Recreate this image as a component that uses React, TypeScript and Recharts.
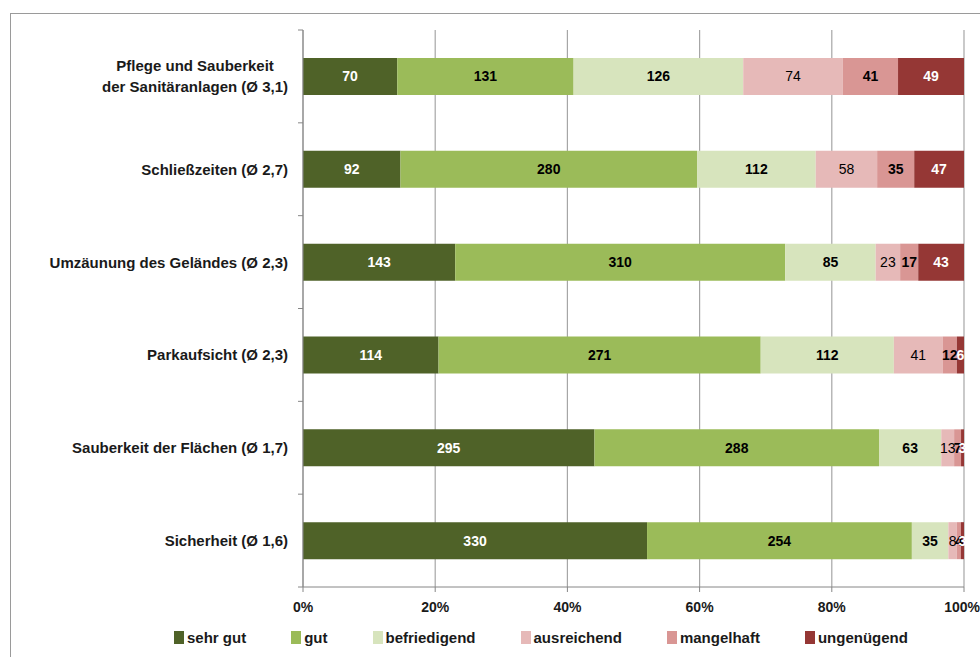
import React from "react";
import { Bar, BarChart, CartesianGrid, LabelList, Legend, XAxis, YAxis } from "recharts";

const categories = [
  "Pflege und Sauberkeit\nder Sanitäranlagen (Ø 3,1)",
  "Schließzeiten (Ø 2,7)",
  "Umzäunung des Geländes (Ø 2,3)",
  "Parkaufsicht (Ø 2,3)",
  "Sauberkeit der Flächen (Ø 1,7)",
  "Sicherheit (Ø 1,6)",
];

const sehrGut = [70, 92, 143, 114, 295, 330];
const gut = [131, 280, 310, 271, 288, 254];
const befriedigend = [126, 112, 85, 112, 63, 35];
const ausreichend = [74, 58, 23, 41, 13, 8];
const mangelhaft = [41, 35, 17, 12, 7, 4];
const ungenuegend = [49, 47, 43, 6, 3, 3];

const xTicks = [0, 0.2, 0.4, 0.6, 0.8, 1];

const SERIES = [
  { key: "sehrGut", name: "sehr gut", values: sehrGut, color: "#4F6228", text: "#ffffff", weight: 700 },
  { key: "gut", name: "gut", values: gut, color: "#9BBB59", text: "#000000", weight: 700 },
  { key: "befriedigend", name: "befriedigend", values: befriedigend, color: "#D7E4BD", text: "#000000", weight: 700 },
  { key: "ausreichend", name: "ausreichend", values: ausreichend, color: "#E6B9B8", text: "#000000", weight: 400 },
  { key: "mangelhaft", name: "mangelhaft", values: mangelhaft, color: "#D99694", text: "#000000", weight: 700 },
  { key: "ungenuegend", name: "ungenügend", values: ungenuegend, color: "#953735", text: "#ffffff", weight: 700 },
];

const data = categories.map((name, i) => {
  const row: Record<string, string | number> = { name };
  SERIES.forEach((s) => (row[s.key] = s.values[i]));
  return row;
});

const FONT = "'Liberation Sans', Arial, sans-serif";
const GRID = "#a6a6a6";
const AXIS = "#868686";

let ctx: CanvasRenderingContext2D | null = null;
function textWidth(s: string, font: string) {
  if (!ctx) ctx = document.createElement("canvas").getContext("2d");
  if (!ctx) return s.length * 8;
  ctx.font = font;
  return ctx.measureText(s).width;
}

function CategoryTick(props: any) {
  const { x, y, payload, index } = props;
  const half = payload?.offset || 46.4;
  const lines = String(payload.value).split("\n");
  const ax = x + 8;
  const right = x - 7;
  const font = `bold 15px ${FONT}`;
  const w = Math.max(...lines.map((l) => textWidth(l, font)));
  return (
    <g>
      <line x1={ax - 5} x2={ax} y1={y - half} y2={y - half} stroke={AXIS} />
      {index === categories.length - 1 && (
        <line x1={ax - 5} x2={ax} y1={y + half} y2={y + half} stroke={AXIS} />
      )}
      {lines.map((l, i) => (
        <text
          key={i}
          x={lines.length > 1 ? right - w / 2 : right}
          y={y + (i - (lines.length - 1) / 2) * 21}
          textAnchor={lines.length > 1 ? "middle" : "end"}
          dominantBaseline="central"
          fontFamily={FONT}
          fontWeight={700}
          fontSize={15}
          fill="#1a1a1a"
        >
          {l}
        </text>
      ))}
    </g>
  );
}

function LegendContent() {
  return (
    <div
      style={{
        display: "flex",
        alignItems: "center",
        height: 40,
        paddingLeft: 174,
        gap: 45,
        fontFamily: FONT,
        fontWeight: 700,
        fontSize: 15,
        color: "#1a1a1a",
      }}
    >
      {SERIES.map((s) => (
        <div key={s.key} style={{ display: "flex", alignItems: "center", gap: 3 }}>
          <span style={{ width: 10, height: 13, background: s.color, display: "inline-block" }} />
          <span>{s.name}</span>
        </div>
      ))}
    </div>
  );
}

export default function App() {
  return (
    <div style={{ position: "fixed", left: 0, top: 0, width: 980, height: 657, background: "#fff", overflow: "hidden" }}>
      <div
        style={{
          position: "absolute",
          left: 10,
          top: 13,
          width: 1000,
          height: 700,
          border: "1.5px solid #9a9a9a",
          boxSizing: "border-box",
        }}
      />
      <div style={{ position: "absolute", left: 0, top: 0 }}>
        <BarChart
          width={980}
          height={657}
          data={data}
          layout="vertical"
          stackOffset="expand"
          barSize={37}
          margin={{ top: 30, right: 16, bottom: 0, left: 0 }}
        >
          <CartesianGrid horizontal={false} stroke={GRID} strokeWidth={1.2} />
          <XAxis
            type="number"
            domain={[0, 1]}
            ticks={xTicks}
            tickFormatter={(v: number) => `${Math.round(v * 100)}%`}
            height={30}
            stroke={AXIS}
            tickSize={5}
            tickMargin={10}
            tick={{ fontFamily: FONT, fontWeight: 700, fontSize: 14, fill: "#1a1a1a" }}
          />
          <YAxis
            type="category"
            dataKey="name"
            width={303}
            stroke={AXIS}
            tickLine={false}
            tick={<CategoryTick />}
            interval={0}
          />
          {SERIES.map((s) => (
            <Bar key={s.key} dataKey={s.key} name={s.name} stackId="a" fill={s.color} isAnimationActive={false}>
              <LabelList
                dataKey={s.key}
                position="center"
                fill={s.text}
                style={{ fontFamily: FONT, fontWeight: s.weight, fontSize: 14 }}
              />
            </Bar>
          ))}
          <Legend verticalAlign="bottom" height={40} content={<LegendContent />} wrapperStyle={{ left: 0, width: 980 }} />
        </BarChart>
      </div>
    </div>
  );
}
